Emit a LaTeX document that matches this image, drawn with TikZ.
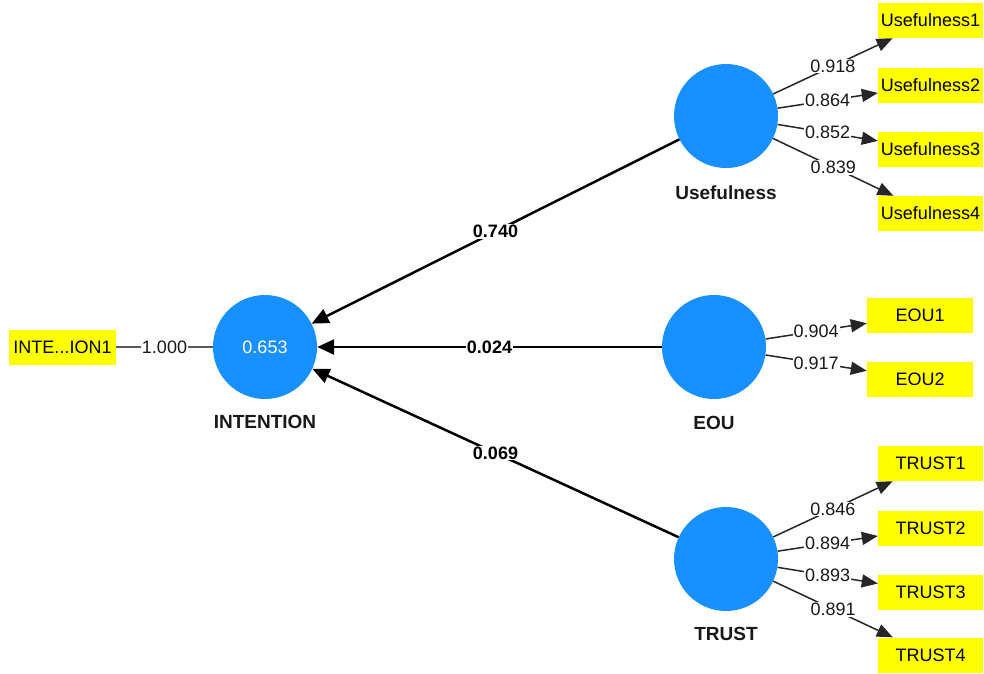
\documentclass[tikz,border=0pt]{standalone}
\usepackage{fontspec}
\setmainfont{Liberation Sans}
\usetikzlibrary{arrows.meta}
\definecolor{lvblue}{RGB}{24,144,255}
\definecolor{mvyellow}{RGB}{255,255,0}
\begin{document}
\begin{tikzpicture}[x=1pt,y=-1pt,
 latent/.style={circle,fill=lvblue,minimum size=104pt,inner sep=0pt,text=white,font=\fontsize{18}{21}\selectfont},
 ind/.style={fill=mvyellow,minimum width=105pt,minimum height=35pt,inner sep=0pt,text=black,font=\fontsize{18}{21}\selectfont},
 lname/.style={font=\bfseries\fontsize{19}{22}\selectfont,text=black!90},
 pathln/.style={line width=2.5pt,draw=black,-{Triangle[length=17pt,width=15pt]}},
 loadln/.style={line width=1.5pt,draw=black!85,-{Triangle[length=16pt,width=13pt]}},
 refl/.style={line width=1.5pt,draw=black!65},
 plabel/.style={fill=white,inner sep=1pt,text=black,font=\bfseries\fontsize{18}{21}\selectfont},
 llabel/.style={fill=white,inner sep=1pt,text=black!90,font=\fontsize{18}{21}\selectfont},
]
\fill[white] (0,0) rectangle (984,673);
\useasboundingbox (0,0) rectangle (984,673);

% latent variables
\node[latent] (int) at (265,347) {0.653};
\node[latent] (use) at (726,116) {};
\node[latent] (eou) at (714,347) {};
\node[latent] (tru) at (726,559) {};

\node[lname] (intL) at (265,422) {INTENTION};
\node[lname] (useL) at (726,193) {Usefulness};
\node[lname] (eouL) at (714,423) {EOU};
\node[lname] (truL) at (726,634) {TRUST};

% indicators
\node[ind,minimum width=107pt] (i1) at (62.5,347) {INTE...ION1};
\node[ind] (u1) at (930.5,20.5) {Usefulness1};
\node[ind] (u2) at (930.5,85) {Usefulness2};
\node[ind] (u3) at (930.5,149.5) {Usefulness3};
\node[ind] (u4) at (930.5,213.5) {Usefulness4};
\node[ind,minimum width=106pt] (e1) at (920,315) {EOU1};
\node[ind,minimum width=106pt] (e2) at (920,379) {EOU2};
\node[ind] (t1) at (930.5,463.5) {TRUST1};
\node[ind] (t2) at (930.5,528) {TRUST2};
\node[ind] (t3) at (930.5,592) {TRUST3};
\node[ind] (t4) at (930.5,655) {TRUST4};

% structural paths
\draw[pathln] (use) -- node[plabel] {0.740} (int);
\draw[pathln] (eou) -- node[plabel] {0.024} (int);
\draw[pathln] (tru) -- node[plabel] {0.069} (int);

% reflective indicator of INTENTION
\draw[refl] (int) -- node[llabel] {1.000} (i1);

% loadings
\draw[loadln] (use) -- node[llabel] {0.918} (u1);
\draw[loadln] (use) -- node[llabel] {0.864} (u2);
\draw[loadln] (use) -- node[llabel] {0.852} (u3);
\draw[loadln] (use) -- node[llabel] {0.839} (u4);
\draw[loadln] (eou) -- node[llabel] {0.904} (e1);
\draw[loadln] (eou) -- node[llabel] {0.917} (e2);
\draw[loadln] (tru) -- node[llabel] {0.846} (t1);
\draw[loadln] (tru) -- node[llabel] {0.894} (t2);
\draw[loadln] (tru) -- node[llabel] {0.893} (t3);
\draw[loadln] (tru) -- node[llabel] {0.891} (t4);
\end{tikzpicture}
\end{document}
